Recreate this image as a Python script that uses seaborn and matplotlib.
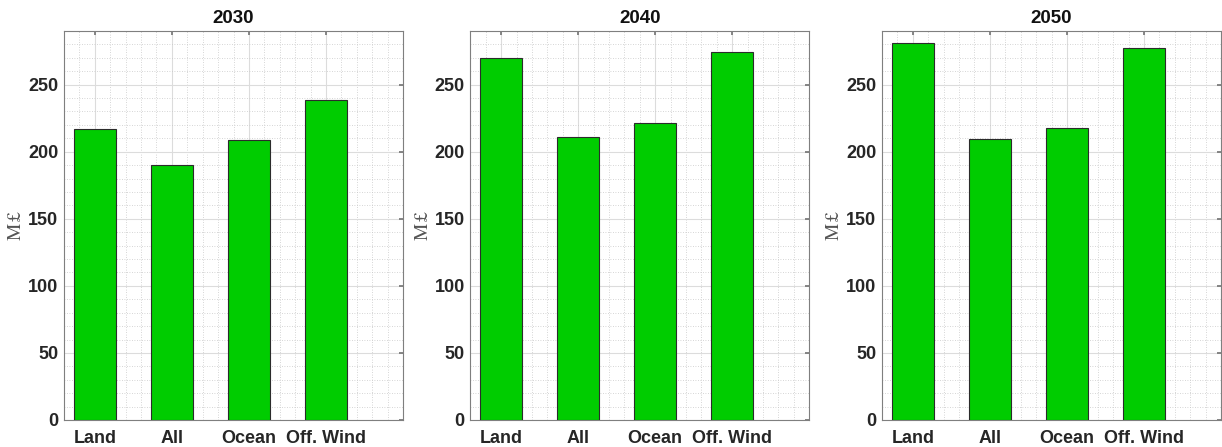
import matplotlib
matplotlib.use("Agg")
import matplotlib.pyplot as plt
from matplotlib.ticker import MultipleLocator
import pandas as pd
import seaborn as sns

categories = ["Land", "All", "Ocean", "Off. Wind"]
years = ["2030", "2040", "2050"]
cost_2030 = [217.3, 189.8, 208.4, 238.2]
cost_2040 = [269.6, 211.0, 221.7, 274.3]
cost_2050 = [281.0, 209.3, 217.7, 277.3]
series = [cost_2030, cost_2040, cost_2050]

sns.set_theme(style="white")
plt.rcParams["font.family"] = ["Liberation Sans", "DejaVu Sans"]
plt.rcParams["mathtext.fontset"] = "stix"

fig = plt.figure(figsize=(12.22, 4.47), dpi=100)
lefts = [64 / 1222, 470.3 / 1222, 882 / 1222]
W, H = 339 / 1222, 389 / 447
B = 1 - 420 / 447

for left, year, vals in zip(lefts, years, series):
    ax = fig.add_axes([left, B, W, H])
    df = pd.DataFrame({"cat": categories, "val": vals})
    sns.barplot(data=df, x="cat", y="val", ax=ax, color="#00cc00",
                saturation=1, width=0.54, edgecolor="#2b2b2b", linewidth=0.8,
                zorder=3)
    ax.set_xlim(-0.4, 4.0)
    ax.set_ylim(0, 290)
    ax.set_yticks(range(0, 251, 50))
    ax.yaxis.set_minor_locator(MultipleLocator(10))
    ax.xaxis.set_minor_locator(MultipleLocator(0.2))
    ax.grid(True, which="major", color="#dcdcdc", linewidth=0.8, zorder=0)
    ax.grid(True, which="minor", color="#c8c8c8", linestyle=(0, (1, 2)),
            linewidth=0.6, zorder=0)
    ax.set_axisbelow(True)
    ax.tick_params(axis="both", which="major", direction="in", length=3,
                   color="#777777", top=True, right=True,
                   labelsize=13, pad=4)
    ax.tick_params(axis="x", which="major", pad=7)
    ax.tick_params(axis="both", which="minor", length=0)
    for lab in ax.get_xticklabels() + ax.get_yticklabels():
        lab.set_fontweight("bold")
        lab.set_color("#262626")
    for sp in ax.spines.values():
        sp.set_color("#7f7f7f")
        sp.set_linewidth(0.8)
    ax.set_xlabel("")
    ax.set_ylabel("$\\mathrm{M}\\,\\mathit{£}$", fontsize=14, color="#555555",
                  labelpad=2)
    ax.set_title(year, fontsize=13.5, fontweight="bold", color="#111111", pad=6)

fig.savefig("out.png", dpi=100)
